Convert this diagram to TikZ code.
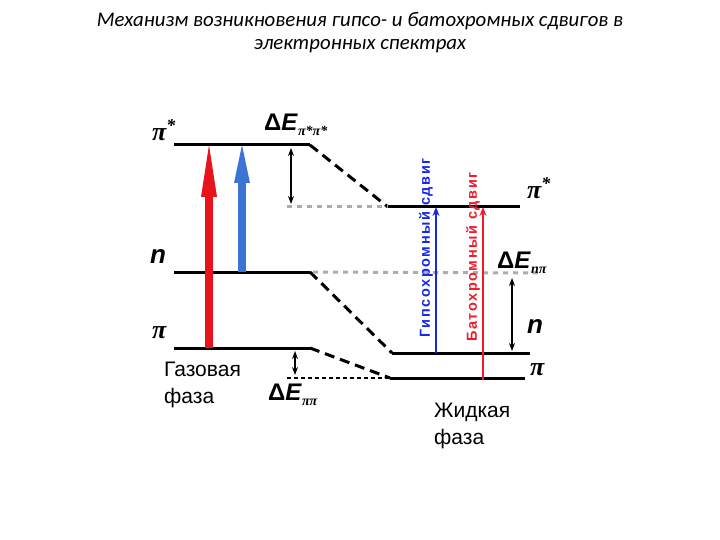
\documentclass[tikz,border=0pt]{standalone}
\usepackage{fontspec}
\setmainfont{Liberation Sans}
\newfontfamily\titlefont{Carlito}
\newfontfamily\greekfont{Liberation Serif}
\newfontfamily\shiftfont[LetterSpace=11]{Liberation Sans}
\usetikzlibrary{arrows.meta,positioning}
\definecolor{Hot}{HTML}{E8141B}
\definecolor{Cool}{HTML}{3C74D4}
\definecolor{HypsoBlue}{HTML}{1428E6}
\definecolor{BathoRed}{HTML}{EE1C2C}
\newcommand{\pisym}[1]{{\greekfont\bfseries\itshape\fontsize{26}{26}\selectfont π\raisebox{9pt}{\fontsize{18}{18}\selectfont #1}}}
\newcommand{\dE}[1]{{\bfseries\fontsize{24}{24}\selectfont Δ\textit{E}}\raisebox{-5pt}{\greekfont\bfseries\itshape\fontsize{14}{14}\selectfont #1}}
\newcommand{\sz}[1]{\fontsize{#1}{#1}\selectfont}

\begin{document}
\begin{tikzpicture}[x=1pt,y=-1pt,>=Stealth,
  level/.style={line width=3pt},
  shiftline/.style={line width=3pt,dash pattern=on 10pt off 6pt},
  guide/.style={line width=3pt,gray!65,dash pattern=on 5pt off 5pt},
  guideblack/.style={line width=2pt,dash pattern=on 4pt off 3pt},
  gap/.style={line width=1.4pt,{Stealth[length=8pt,width=6pt]}-{Stealth[length=8pt,width=6pt]}},
  big/.style={line width=8pt,-{Triangle[length=#1,width=16pt,line width=0pt]}},
  thin/.style={line width=2.2pt,-{Stealth[length=9pt,width=7pt]}},
  lab/.style={inner sep=0pt,anchor=west}]
\useasboundingbox (0,0) rectangle (720,540);

% title
\node[align=center,font=\titlefont\itshape\sz{20.8}] (title) at (360,33)
  {Механизм возникновения гипсо- и батохромных сдвигов в\\[2pt]электронных спектрах};

% gas phase levels
\coordinate (gpsA) at (174,145); \coordinate (gpsB) at (310,145);
\coordinate (gnA) at (174,272);  \coordinate (gnB) at (310,272);
\coordinate (gpA) at (174,348);  \coordinate (gpB) at (310,348);
% liquid phase levels
\coordinate (lpsA) at (388,207); \coordinate (lpsB) at (520,207);
\coordinate (lnA) at (392,353);  \coordinate (lnB) at (530,353);
\coordinate (lpA) at (390,378);  \coordinate (lpB) at (525,378);

\draw[level] (gpsA)--(gpsB) (gnA)--(gnB) (gpA)--(gpB);
\draw[level] (lpsA)--(lpsB) (lnA)--(lnB) (lpA)--(lpB);
\draw[shiftline] (gpsB)--(lpsA) (gnB)--(lnA) (gpB)--(lpA);

% dotted guides
\coordinate (gPs) at (287,207); \coordinate (gN) at (540,273); \coordinate (gP) at (287,378);
\draw[guide] (gPs)--(lpsA);
\draw[guide] ([xshift=3pt]gnB)--(gN);
\draw[guideblack] (gP)--(lpA);

% energy gaps
\coordinate (d1a) at (291,148); \coordinate (d1b) at (291,204);
\coordinate (d2a) at (295,351); \coordinate (d2b) at (295,375);
\coordinate (d3a) at (512,278); \coordinate (d3b) at (512,351);
\draw[gap] (d1a)--(d1b);
\draw[gap] (d2a)--(d2b);
\draw[gap] (d3a)--(d3b);

% transitions, gas phase
\coordinate (redT) at (209,145); \coordinate (redB) at (209,348);
\coordinate (bluT) at (242,145); \coordinate (bluB) at (242,272);
\draw[big=52pt,Hot] (redB)--(redT);
\draw[big=38pt,Cool] (bluB)--(bluT);

% transitions, liquid phase
\coordinate (hT) at (436,207); \coordinate (hB) at (436,353);
\coordinate (bT) at (483,207); \coordinate (bB) at (483,380);
\draw[thin,HypsoBlue] (hB)--(hT);
\draw[thin,BathoRed] (bB)--(bT);
\node[rotate=90,text=HypsoBlue,font=\shiftfont\bfseries\sz{14.5}] (hypso) at (426,248) {Гипсохромный сдвиг};
\node[rotate=90,text=BathoRed,font=\shiftfont\bfseries\sz{14.5}] (batho) at (473,257) {Батохромный сдвиг};

% labels, gas phase
\node[lab] (lgps) at (152,130) {\pisym{*}};
\node[lab] (lgn) at (150,257) {\bfseries\itshape\sz{26}n};
\node[lab] (lgp) at (152,333) {\pisym{}};
\node[lab] (dE1) at (264,125) {\dE{π*π*}};
\node[lab] (dE2) at (268,395) {\dE{ππ}};
\node[lab,align=left,font=\sz{21}] (gas) at (164,385) {Газовая\\[6pt]фаза};

% labels, liquid phase
\node[lab] (lps) at (527,188) {\pisym{*}};
\node[lab] (lnn) at (527,327) {\bfseries\itshape\sz{26}n};
\node[lab] (lpp) at (530,370) {\pisym{}};
\node[lab] (dE3) at (497,263) {\dE{nπ}};
\node[lab,align=left,font=\sz{21}] (liq) at (434,426) {Жидкая\\[6pt]фаза};
\end{tikzpicture}
\end{document}
